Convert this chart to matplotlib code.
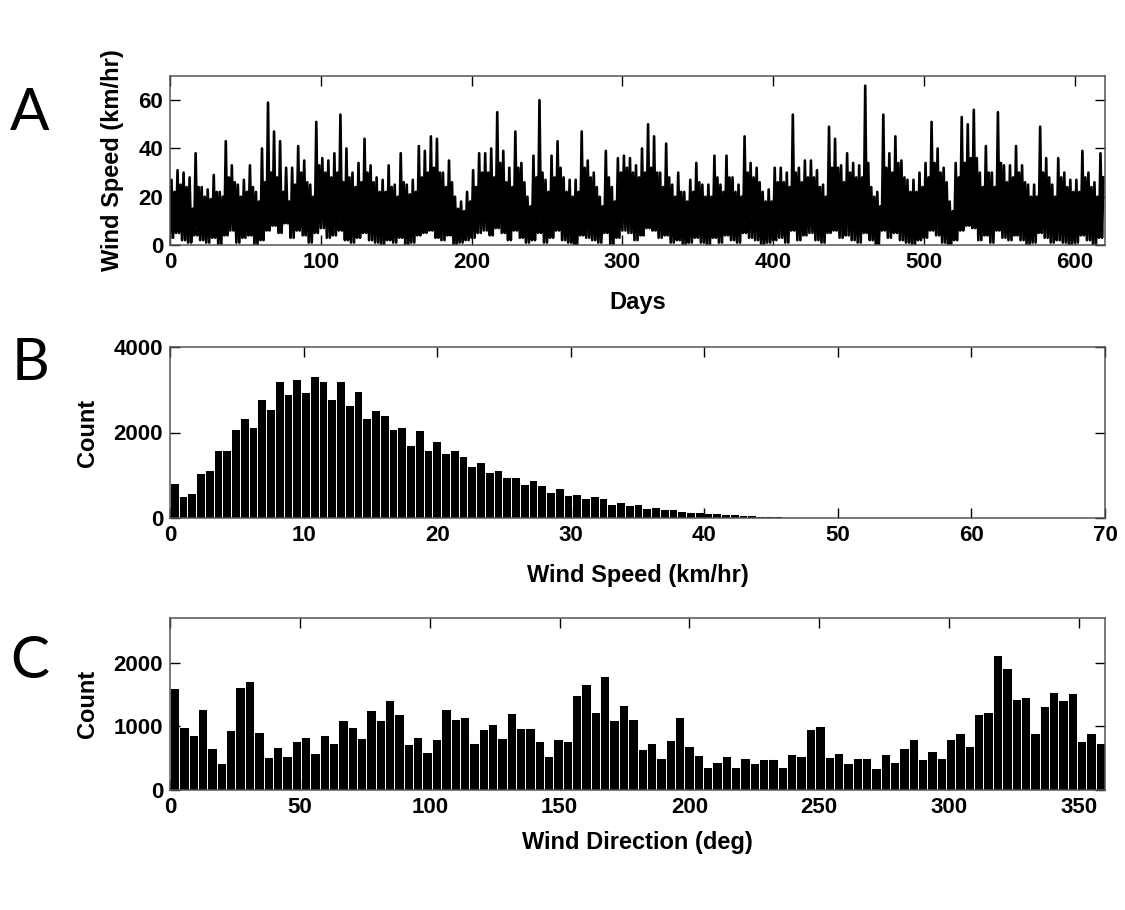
import numpy as np
import matplotlib
matplotlib.use('Agg')
import matplotlib.pyplot as plt

plt.rcParams['font.family'] = ['Liberation Sans', 'DejaVu Sans']
plt.rcParams['font.weight'] = 'bold'

# --- panel A: wind speed record, read in 4-day blocks (km/hr) ---
block_days = 4
peak_kmh = [27, 31, 30, 28, 38, 24, 23, 29, 22, 43,
            33, 25, 27, 33, 22, 40, 59, 47, 43, 32,
            32, 41, 35, 25, 51, 36, 35, 38, 54, 40,
            30, 34, 44, 33, 28, 27, 33, 25, 38, 25,
            27, 41, 39, 45, 44, 30, 35, 20, 18, 22,
            31, 38, 38, 40, 55, 39, 32, 47, 34, 20,
            37, 60, 27, 37, 43, 28, 27, 27, 47, 35,
            30, 20, 39, 24, 36, 37, 36, 33, 40, 50,
            45, 30, 42, 25, 30, 22, 27, 34, 25, 25,
            37, 25, 37, 28, 25, 45, 34, 32, 22, 23,
            32, 32, 30, 54, 32, 35, 35, 31, 25, 49,
            44, 33, 38, 34, 33, 66, 24, 22, 54, 38,
            45, 35, 27, 27, 30, 34, 51, 40, 32, 18,
            34, 53, 50, 56, 30, 41, 30, 55, 33, 33,
            41, 33, 25, 25, 49, 36, 25, 36, 30, 27,
            27, 39, 30, 26, 38]
mid_kmh = [22, 25, 24, 15, 24, 20, 19, 22, 20, 28,
           26, 20, 22, 24, 18, 26, 30, 28, 22, 18,
           25, 30, 26, 20, 33, 30, 28, 30, 26, 28,
           24, 26, 30, 26, 22, 22, 24, 20, 26, 21,
           22, 28, 30, 32, 30, 24, 26, 15, 14, 18,
           24, 30, 30, 28, 34, 26, 24, 32, 26, 16,
           28, 30, 22, 28, 32, 22, 20, 22, 32, 28,
           24, 16, 28, 18, 30, 32, 30, 28, 30, 32,
           30, 24, 28, 20, 22, 18, 22, 26, 20, 20,
           28, 22, 28, 22, 20, 30, 28, 26, 18, 18,
           26, 26, 24, 30, 26, 28, 28, 24, 20, 32,
           32, 26, 30, 28, 28, 34, 20, 16, 32, 30,
           34, 28, 22, 22, 24, 28, 34, 30, 26, 14,
           28, 34, 36, 36, 24, 30, 24, 34, 26, 28,
           30, 26, 20, 20, 30, 28, 20, 28, 24, 22,
           22, 28, 24, 20, 28]
low_kmh = [3, 5, 2, 1, 4, 2, 1, 3, 0, 4,
           6, 1, 3, 4, 0, 2, 6, 8, 5, 9,
           3, 6, 4, 1, 5, 7, 3, 4, 6, 2,
           1, 3, 5, 2, 1, 0, 2, 1, 3, 0,
           1, 4, 5, 6, 3, 2, 4, 0, 1, 2,
           3, 5, 6, 4, 7, 5, 2, 6, 3, 1,
           2, 5, 1, 3, 6, 2, 1, 0, 4, 3,
           2, 1, 5, 0, 3, 6, 5, 2, 4, 7,
           6, 3, 4, 1, 2, 0, 1, 3, 1, 0,
           3, 1, 4, 2, 1, 5, 3, 2, 0, 1,
           2, 3, 1, 6, 2, 4, 5, 2, 1, 5,
           6, 3, 4, 2, 1, 5, 2, 0, 6, 3,
           5, 2, 1, 0, 2, 3, 6, 4, 1, 0,
           2, 6, 8, 7, 2, 4, 1, 6, 3, 2,
           4, 2, 0, 1, 5, 3, 1, 2, 1, 0,
           1, 4, 2, 0, 3]

# --- panel B: wind speed histogram, 100 bins ---
speed_max = 65.5
speed_counts = [828, 516, 586, 1055, 1133, 1594, 1602, 2078, 2336, 2125,
                2781, 2547, 3203, 2898, 3250, 2945, 3320, 3203, 2781, 3203,
                2648, 2969, 2336, 2523, 2398, 2078, 2125, 1719, 2055, 1594,
                1797, 1516, 1594, 1461, 1219, 1320, 1086, 1133, 961, 961,
                797, 891, 773, 609, 711, 539, 563, 469, 516, 469,
                328, 367, 305, 328, 234, 266, 219, 211, 172, 148,
                141, 125, 117, 102, 86, 78, 63, 55, 47, 39,
                31, 23, 14, 12, 0, 16, 12, 0, 0, 0,
                0, 0, 0, 0, 0, 0, 0, 0, 0, 0,
                0, 0, 0, 0, 0, 0, 0, 0, 0, 0]

# --- panel C: wind direction histogram, 100 bins over 0-360 deg ---
dir_counts = [1605, 989, 863, 1274, 653, 416, 937, 1621, 1716, 911,
              511, 668, 526, 768, 832, 574, 858, 732, 1095, 989,
              816, 1258, 1095, 1416, 1195, 716, 832, 589, 795, 1274,
              1116, 1147, 737, 958, 1037, 816, 1216, 974, 974, 768,
              526, 795, 768, 1484, 1658, 1226, 1784, 1100, 1337, 1111,
              642, 737, 500, 784, 1147, 684, 542, 368, 447, 526,
              368, 500, 416, 484, 484, 368, 558, 526, 958, 1005,
              511, 574, 416, 500, 500, 353, 558, 447, 658, 800,
              479, 611, 500, 800, 895, 689, 1195, 1232, 2116, 1911,
              1421, 1453, 895, 1311, 1532, 1405, 1516, 768, 895, 737]

# build the day series: low, peak, low, mid within each block
speed_series = []
for lo, pk, md in zip(low_kmh, peak_kmh, mid_kmh):
    speed_series += [lo, pk, lo, md]
days = np.arange(len(speed_series)) * block_days / 4.0

LABEL_FS = 17
TICK_FS = 16

fig = plt.figure(figsize=(11.25, 9.1), dpi=100)
W, H = 1125.0, 910.0
left, right = 170 / W, 1105 / W

def make_axes(top_px, bottom_px):
    return fig.add_axes([left, 1 - bottom_px / H, right - left, (bottom_px - top_px) / H])

def style(ax):
    ax.tick_params(direction='in', top=True, right=True, length=7, width=1,
                   labelsize=TICK_FS, colors='black', pad=5)
    for s in ax.spines.values():
        s.set_color('#555555')
        s.set_linewidth(1.1)
    for lab in ax.get_xticklabels() + ax.get_yticklabels():
        lab.set_fontweight('bold')

# A
axA = make_axes(76, 245)
axA.plot(days, speed_series, color='black', lw=1.9)
axA.set_xlim(0, 620)
axA.set_ylim(0, 70)
axA.set_xticks(range(0, 700, 100))
axA.set_yticks([0, 20, 40, 60])
axA.set_xlabel('Days', fontsize=LABEL_FS, fontweight='bold')
axA.set_ylabel('Wind Speed (km/hr)', fontsize=LABEL_FS, fontweight='bold')
axA.yaxis.set_label_coords(-0.049, 0.5)
axA.xaxis.set_label_coords(0.5, -0.275)
style(axA)

# B
axB = make_axes(347, 518)
edges = np.linspace(0, speed_max, len(speed_counts) + 1)
axB.bar(edges[:-1], speed_counts, width=np.diff(edges), align='edge',
        color='black', edgecolor='white', linewidth=0.7)
axB.set_xlim(0, 70)
axB.set_ylim(0, 4000)
axB.set_xticks(range(0, 80, 10))
axB.set_yticks([0, 2000, 4000])
axB.set_xlabel('Wind Speed (km/hr)', fontsize=LABEL_FS, fontweight='bold')
axB.set_ylabel('Count', fontsize=LABEL_FS, fontweight='bold')
axB.yaxis.set_label_coords(-0.076, 0.5)
axB.xaxis.set_label_coords(0.5, -0.27)
style(axB)

# C
axC = make_axes(618, 790)
dedges = np.linspace(0, 360, len(dir_counts) + 1)
axC.bar(dedges[:-1], dir_counts, width=np.diff(dedges), align='edge',
        color='black', edgecolor='white', linewidth=0.7)
axC.set_xlim(0, 360)
axC.set_ylim(0, 2700)
axC.set_xticks(range(0, 400, 50))
axC.set_yticks([0, 1000, 2000])
axC.set_xlabel('Wind Direction (deg)', fontsize=LABEL_FS, fontweight='bold')
axC.set_ylabel('Count', fontsize=LABEL_FS, fontweight='bold')
axC.yaxis.set_label_coords(-0.076, 0.5)
axC.xaxis.set_label_coords(0.5, -0.24)
style(axC)

# panel letters
for letter, ypx in [('A', 113), ('B', 364), ('C', 661)]:
    fig.text(30 / W, 1 - ypx / H, letter, fontsize=42, fontweight='normal',
             family=['Lato', 'DejaVu Sans'], ha='center', va='center')

fig.savefig('out.png', dpi=100, facecolor='white')
